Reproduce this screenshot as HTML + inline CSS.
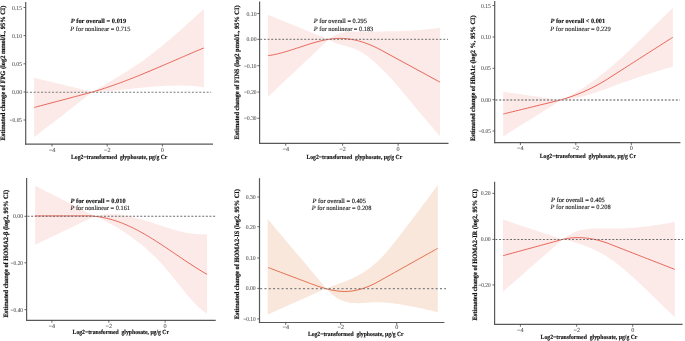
<!DOCTYPE html><html><head><meta charset="utf-8"><style>html,body{margin:0;padding:0;background:#fff;overflow:hidden;}svg{display:block;will-change:transform;}text{font-family:"Liberation Serif",serif;text-rendering:geometricPrecision;stroke-width:0.14px;paint-order:stroke;}</style></head><body>
<svg width="685" height="341" viewBox="0 0 685 341">
<rect width="685" height="341" fill="#fff"/>
<path d="M34.10,77.80 C43.83,80.17 82.77,89.63 92.50,92.00 C92.83,91.78 93.83,91.19 94.49,90.79 C95.15,90.39 95.82,90.00 96.48,89.60 C97.14,89.20 97.80,88.81 98.47,88.42 C99.13,88.02 99.79,87.63 100.46,87.24 C101.12,86.85 101.78,86.45 102.45,86.06 C103.11,85.67 103.77,85.28 104.44,84.89 C105.10,84.50 105.76,84.10 106.42,83.71 C107.09,83.32 107.75,82.93 108.41,82.54 C109.08,82.15 109.74,81.75 110.40,81.36 C111.07,80.97 111.73,80.57 112.39,80.18 C113.06,79.79 113.72,79.39 114.38,78.99 C115.05,78.60 115.71,78.20 116.37,77.80 C117.03,77.40 117.70,77.00 118.36,76.60 C119.02,76.20 119.69,75.80 120.35,75.39 C121.01,74.99 121.68,74.58 122.34,74.18 C123.00,73.77 123.67,73.36 124.33,72.95 C124.99,72.53 125.65,72.12 126.32,71.70 C126.98,71.29 127.64,70.87 128.31,70.45 C128.97,70.03 129.63,69.60 130.30,69.18 C130.96,68.75 131.62,68.32 132.29,67.89 C132.95,67.46 133.61,67.02 134.28,66.58 C134.94,66.14 135.60,65.70 136.26,65.26 C136.93,64.81 137.59,64.36 138.25,63.91 C138.92,63.46 139.58,63.01 140.24,62.55 C140.91,62.09 141.57,61.62 142.23,61.16 C142.90,60.69 143.56,60.22 144.22,59.74 C144.88,59.27 145.55,58.79 146.21,58.30 C146.87,57.82 147.54,57.33 148.20,56.84 C148.86,56.34 149.53,55.84 150.19,55.34 C150.85,54.84 151.52,54.33 152.18,53.82 C152.84,53.31 153.50,52.80 154.17,52.28 C154.83,51.76 155.49,51.24 156.16,50.71 C156.82,50.19 157.48,49.66 158.15,49.12 C158.81,48.59 159.47,48.05 160.14,47.51 C160.80,46.97 161.46,46.43 162.12,45.88 C162.79,45.34 163.45,44.79 164.11,44.23 C164.78,43.68 165.44,43.12 166.10,42.56 C166.77,42.01 167.43,41.44 168.09,40.88 C168.76,40.32 169.42,39.75 170.08,39.18 C170.75,38.61 171.41,38.04 172.07,37.46 C172.73,36.89 173.40,36.31 174.06,35.73 C174.72,35.16 175.39,34.57 176.05,33.99 C176.71,33.41 177.38,32.82 178.04,32.24 C178.70,31.65 179.37,31.06 180.03,30.47 C180.69,29.88 181.35,29.29 182.02,28.70 C182.68,28.11 183.34,27.51 184.01,26.92 C184.67,26.32 185.33,25.73 186.00,25.13 C186.66,24.53 187.32,23.93 187.99,23.34 C188.65,22.74 189.31,22.14 189.98,21.54 C190.64,20.94 191.30,20.33 191.96,19.73 C192.63,19.13 193.29,18.53 193.95,17.93 C194.62,17.32 195.28,16.72 195.94,16.12 C196.61,15.51 197.27,14.91 197.93,14.31 C198.60,13.70 199.26,13.10 199.92,12.50 C200.58,11.90 201.25,11.29 201.91,10.69 C202.57,10.09 203.57,9.19 203.90,8.89 L203.90,87.21 C203.57,87.16 202.57,87.03 201.91,86.94 C201.25,86.86 200.58,86.77 199.92,86.70 C199.26,86.62 198.60,86.55 197.93,86.48 C197.27,86.41 196.61,86.35 195.94,86.29 C195.28,86.23 194.62,86.17 193.95,86.12 C193.29,86.07 192.63,86.02 191.96,85.97 C191.30,85.93 190.64,85.89 189.98,85.85 C189.31,85.81 188.65,85.78 187.99,85.75 C187.32,85.72 186.66,85.69 186.00,85.67 C185.33,85.65 184.67,85.63 184.01,85.61 C183.34,85.59 182.68,85.58 182.02,85.57 C181.35,85.56 180.69,85.55 180.03,85.54 C179.37,85.54 178.70,85.54 178.04,85.54 C177.38,85.54 176.71,85.55 176.05,85.55 C175.39,85.56 174.72,85.57 174.06,85.58 C173.40,85.59 172.73,85.61 172.07,85.63 C171.41,85.64 170.75,85.66 170.08,85.69 C169.42,85.71 168.76,85.73 168.09,85.76 C167.43,85.79 166.77,85.82 166.10,85.85 C165.44,85.88 164.78,85.91 164.11,85.95 C163.45,85.99 162.79,86.02 162.12,86.06 C161.46,86.10 160.80,86.14 160.14,86.19 C159.47,86.23 158.81,86.28 158.15,86.32 C157.48,86.37 156.82,86.42 156.16,86.47 C155.49,86.52 154.83,86.57 154.17,86.62 C153.50,86.68 152.84,86.73 152.18,86.79 C151.52,86.84 150.85,86.90 150.19,86.96 C149.53,87.02 148.86,87.08 148.20,87.14 C147.54,87.20 146.87,87.26 146.21,87.32 C145.55,87.38 144.88,87.45 144.22,87.51 C143.56,87.57 142.90,87.64 142.23,87.71 C141.57,87.77 140.91,87.84 140.24,87.90 C139.58,87.97 138.92,88.04 138.25,88.11 C137.59,88.18 136.93,88.24 136.26,88.31 C135.60,88.38 134.94,88.45 134.28,88.52 C133.61,88.59 132.95,88.66 132.29,88.73 C131.62,88.80 130.96,88.87 130.30,88.94 C129.63,89.01 128.97,89.08 128.31,89.15 C127.64,89.22 126.98,89.29 126.32,89.36 C125.65,89.43 124.99,89.49 124.33,89.56 C123.67,89.63 123.00,89.70 122.34,89.77 C121.68,89.83 121.01,89.90 120.35,89.97 C119.69,90.03 119.02,90.10 118.36,90.16 C117.70,90.23 117.03,90.29 116.37,90.36 C115.71,90.42 115.05,90.48 114.38,90.54 C113.72,90.60 113.06,90.66 112.39,90.72 C111.73,90.78 111.07,90.84 110.40,90.90 C109.74,90.95 109.08,91.01 108.41,91.06 C107.75,91.11 107.09,91.17 106.42,91.22 C105.76,91.27 105.10,91.32 104.44,91.36 C103.77,91.41 103.11,91.46 102.45,91.50 C101.78,91.54 101.12,91.59 100.46,91.63 C99.79,91.67 99.13,91.70 98.47,91.74 C97.80,91.78 97.14,91.81 96.48,91.84 C95.82,91.87 95.15,91.90 94.49,91.93 C93.83,91.96 92.83,91.99 92.50,92.00 C82.77,99.55 43.83,129.75 34.10,137.30 Z" fill="#FCEAE8" stroke="none"/>
<path d="M34.10,107.50 C34.63,107.36 36.21,106.94 37.27,106.66 C38.33,106.38 39.38,106.10 40.44,105.82 C41.50,105.54 42.55,105.26 43.61,104.98 C44.67,104.70 45.73,104.42 46.78,104.14 C47.84,103.85 48.90,103.57 49.95,103.29 C51.01,103.01 52.07,102.73 53.12,102.45 C54.18,102.17 55.24,101.89 56.29,101.61 C57.35,101.33 58.41,101.05 59.46,100.77 C60.52,100.49 61.58,100.21 62.64,99.93 C63.69,99.65 64.75,99.37 65.81,99.09 C66.86,98.81 67.92,98.53 68.98,98.25 C70.03,97.97 71.09,97.69 72.15,97.41 C73.20,97.13 74.26,96.85 75.32,96.56 C76.37,96.28 77.43,96.00 78.49,95.72 C79.55,95.44 80.60,95.16 81.66,94.88 C82.72,94.60 83.77,94.32 84.83,94.04 C85.89,93.76 87.13,93.43 88.00,93.20 C88.87,92.97 89.36,92.85 90.03,92.67 C90.71,92.48 91.39,92.29 92.07,92.09 C92.74,91.90 93.42,91.70 94.10,91.51 C94.78,91.31 95.46,91.11 96.13,90.90 C96.81,90.70 97.49,90.50 98.17,90.29 C98.84,90.08 99.52,89.87 100.20,89.66 C100.88,89.45 101.56,89.23 102.23,89.02 C102.91,88.80 103.59,88.58 104.27,88.36 C104.94,88.14 105.62,87.92 106.30,87.69 C106.98,87.47 107.66,87.24 108.33,87.01 C109.01,86.78 109.69,86.55 110.37,86.32 C111.04,86.08 111.72,85.85 112.40,85.61 C113.08,85.38 113.76,85.14 114.43,84.90 C115.11,84.66 115.79,84.41 116.47,84.17 C117.14,83.93 117.82,83.68 118.50,83.43 C119.18,83.19 119.86,82.94 120.53,82.69 C121.21,82.44 121.89,82.18 122.57,81.93 C123.24,81.68 123.92,81.42 124.60,81.16 C125.28,80.91 125.96,80.65 126.63,80.39 C127.31,80.13 127.99,79.87 128.67,79.60 C129.34,79.34 130.02,79.08 130.70,78.81 C131.38,78.55 132.06,78.28 132.73,78.01 C133.41,77.74 134.09,77.48 134.77,77.21 C135.44,76.93 136.12,76.66 136.80,76.39 C137.48,76.12 138.16,75.84 138.83,75.57 C139.51,75.29 140.19,75.02 140.87,74.74 C141.54,74.47 142.22,74.19 142.90,73.91 C143.58,73.63 144.26,73.35 144.93,73.07 C145.61,72.79 146.29,72.51 146.97,72.22 C147.64,71.94 148.32,71.66 149.00,71.38 C149.68,71.09 150.36,70.81 151.03,70.52 C151.71,70.24 152.39,69.95 153.07,69.66 C153.74,69.38 154.42,69.09 155.10,68.80 C155.78,68.51 156.46,68.23 157.13,67.94 C157.81,67.65 158.49,67.36 159.17,67.07 C159.84,66.78 160.52,66.49 161.20,66.20 C161.88,65.91 162.56,65.62 163.23,65.32 C163.91,65.03 164.59,64.74 165.27,64.45 C165.94,64.16 166.62,63.86 167.30,63.57 C167.98,63.28 168.66,62.99 169.33,62.69 C170.01,62.40 170.69,62.11 171.37,61.82 C172.04,61.52 172.72,61.23 173.40,60.94 C174.08,60.64 174.76,60.35 175.43,60.06 C176.11,59.76 176.79,59.47 177.47,59.18 C178.14,58.89 178.82,58.59 179.50,58.30 C180.18,58.01 180.86,57.71 181.53,57.42 C182.21,57.13 182.89,56.84 183.57,56.55 C184.24,56.26 184.92,55.96 185.60,55.67 C186.28,55.38 186.96,55.09 187.63,54.80 C188.31,54.51 188.99,54.22 189.67,53.93 C190.34,53.64 191.02,53.35 191.70,53.06 C192.38,52.78 193.06,52.49 193.73,52.20 C194.41,51.91 195.09,51.63 195.77,51.34 C196.44,51.06 197.12,50.77 197.80,50.49 C198.48,50.20 199.16,49.92 199.83,49.63 C200.51,49.35 201.19,49.07 201.87,48.79 C202.54,48.51 203.56,48.09 203.90,47.95" fill="none" stroke="#E5564A" stroke-width="0.9" stroke-linejoin="round"/>
<line x1="26.3" y1="92.2" x2="211.2" y2="92.2" stroke="#7a7a7a" stroke-width="1.1" stroke-dasharray="2,1.68"/>
<line x1="25.7" y1="2" x2="25.7" y2="144.7" stroke="#585858" stroke-width="1.2"/>
<line x1="25.099999999999998" y1="144.1" x2="213" y2="144.1" stroke="#585858" stroke-width="1.2"/>
<line x1="23.5" y1="7.5" x2="25.7" y2="7.5" stroke="#444" stroke-width="0.8"/>
<text x="22.0" y="9.50" text-anchor="end" font-size="6.1" textLength="10.0" lengthAdjust="spacingAndGlyphs" fill="#505050" stroke="#505050" style="stroke-width:0.07px">0.15</text>
<line x1="23.5" y1="35.6" x2="25.7" y2="35.6" stroke="#444" stroke-width="0.8"/>
<text x="22.0" y="37.60" text-anchor="end" font-size="6.1" textLength="10.0" lengthAdjust="spacingAndGlyphs" fill="#505050" stroke="#505050" style="stroke-width:0.07px">0.10</text>
<line x1="23.5" y1="63.8" x2="25.7" y2="63.8" stroke="#444" stroke-width="0.8"/>
<text x="22.0" y="65.80" text-anchor="end" font-size="6.1" textLength="10.0" lengthAdjust="spacingAndGlyphs" fill="#505050" stroke="#505050" style="stroke-width:0.07px">0.05</text>
<line x1="23.5" y1="92.0" x2="25.7" y2="92.0" stroke="#444" stroke-width="0.8"/>
<text x="22.0" y="94.00" text-anchor="end" font-size="6.1" textLength="10.0" lengthAdjust="spacingAndGlyphs" fill="#505050" stroke="#505050" style="stroke-width:0.07px">0.00</text>
<line x1="23.5" y1="120.0" x2="25.7" y2="120.0" stroke="#444" stroke-width="0.8"/>
<text x="22.0" y="122.00" text-anchor="end" font-size="6.1" textLength="12.4" lengthAdjust="spacingAndGlyphs" fill="#505050" stroke="#505050" style="stroke-width:0.07px">−0.05</text>
<line x1="52" y1="144.1" x2="52" y2="146.5" stroke="#444" stroke-width="0.8"/>
<text x="52" y="151.60" text-anchor="middle" font-size="6.2" fill="#505050" stroke="#505050" style="stroke-width:0.07px">−4</text>
<line x1="107.2" y1="144.1" x2="107.2" y2="146.5" stroke="#444" stroke-width="0.8"/>
<text x="107.2" y="151.60" text-anchor="middle" font-size="6.2" fill="#505050" stroke="#505050" style="stroke-width:0.07px">−2</text>
<line x1="162.4" y1="144.1" x2="162.4" y2="146.5" stroke="#444" stroke-width="0.8"/>
<text x="162.4" y="151.60" text-anchor="middle" font-size="6.2" fill="#505050" stroke="#505050" style="stroke-width:0.07px">0</text>
<text x="71.0" y="159.00" font-size="6.3" font-weight="bold" textLength="96.4" lengthAdjust="spacingAndGlyphs" xml:space="preserve" fill="#111" stroke="#111">Log2−transformed  glyphosate, μg/g Cr</text>
<text transform="translate(5.4,73.0) rotate(-90)" x="0" y="0" text-anchor="middle" font-size="6.6" font-weight="bold" textLength="134.8" lengthAdjust="spacingAndGlyphs" fill="#111" stroke="#111" style="stroke-width:0.2px">Estimated change of FPG (log2 mmol/L, 95% CI)</text>
<text x="70.7" y="22.9" font-size="6.5" font-weight="bold" fill="#111" stroke="#111" textLength="55.6" lengthAdjust="spacingAndGlyphs"><tspan font-style="italic">P</tspan> for overall = 0.019</text>
<text x="70.3" y="30.6" font-size="6.5" font-weight="normal" fill="#2a2a2a" stroke="#2a2a2a" textLength="60.1" lengthAdjust="spacingAndGlyphs"><tspan font-style="italic">P</tspan> for nonlinear = 0.715</text>
<path d="M267.90,14.70 C278.05,18.82 318.65,35.28 328.80,39.40 C329.13,39.10 330.12,38.31 330.79,37.84 C331.45,37.37 332.11,36.94 332.78,36.54 C333.44,36.14 334.10,35.78 334.76,35.44 C335.42,35.10 336.09,34.79 336.75,34.51 C337.41,34.23 338.07,33.98 338.74,33.75 C339.40,33.52 340.06,33.32 340.73,33.13 C341.39,32.95 342.05,32.79 342.71,32.65 C343.38,32.51 344.04,32.39 344.70,32.28 C345.36,32.17 346.02,32.08 346.69,32.01 C347.35,31.93 348.01,31.87 348.68,31.81 C349.34,31.76 350.00,31.72 350.66,31.69 C351.33,31.66 351.99,31.63 352.65,31.61 C353.31,31.60 353.98,31.58 354.64,31.57 C355.30,31.56 355.96,31.56 356.62,31.55 C357.29,31.54 357.95,31.54 358.61,31.53 C359.28,31.53 359.94,31.52 360.60,31.52 C361.26,31.51 361.93,31.51 362.59,31.50 C363.25,31.50 363.91,31.50 364.58,31.49 C365.24,31.49 365.90,31.49 366.56,31.48 C367.23,31.48 367.89,31.48 368.55,31.48 C369.21,31.47 369.88,31.47 370.54,31.47 C371.20,31.46 371.86,31.46 372.53,31.46 C373.19,31.46 373.85,31.45 374.51,31.45 C375.18,31.45 375.84,31.44 376.50,31.44 C377.16,31.44 377.82,31.43 378.49,31.43 C379.15,31.43 379.81,31.42 380.48,31.42 C381.14,31.41 381.80,31.41 382.46,31.40 C383.13,31.40 383.79,31.39 384.45,31.38 C385.11,31.38 385.77,31.37 386.44,31.36 C387.10,31.35 387.76,31.35 388.43,31.34 C389.09,31.33 389.75,31.32 390.41,31.31 C391.08,31.30 391.74,31.28 392.40,31.27 C393.06,31.26 393.73,31.25 394.39,31.23 C395.05,31.22 395.71,31.20 396.38,31.19 C397.04,31.17 397.70,31.15 398.36,31.13 C399.03,31.11 399.69,31.09 400.35,31.07 C401.01,31.05 401.68,31.03 402.34,31.01 C403.00,30.98 403.66,30.96 404.33,30.93 C404.99,30.91 405.65,30.88 406.31,30.85 C406.98,30.82 407.64,30.79 408.30,30.76 C408.96,30.73 409.62,30.69 410.29,30.66 C410.95,30.62 411.61,30.58 412.28,30.55 C412.94,30.51 413.60,30.47 414.26,30.43 C414.93,30.38 415.59,30.34 416.25,30.29 C416.91,30.25 417.57,30.20 418.24,30.15 C418.90,30.10 419.56,30.05 420.23,30.00 C420.89,29.94 421.55,29.89 422.21,29.83 C422.88,29.77 423.54,29.71 424.20,29.65 C424.86,29.59 425.52,29.52 426.19,29.46 C426.85,29.39 427.51,29.32 428.18,29.25 C428.84,29.18 429.50,29.10 430.16,29.03 C430.83,28.95 431.49,28.87 432.15,28.79 C432.81,28.71 433.48,28.63 434.14,28.54 C434.80,28.46 435.46,28.37 436.12,28.28 C436.79,28.18 437.45,28.09 438.11,27.99 C438.78,27.90 439.77,27.74 440.10,27.69 L440.10,136.30 C439.77,135.92 438.78,134.78 438.11,134.02 C437.45,133.26 436.79,132.49 436.12,131.73 C435.46,130.97 434.80,130.20 434.14,129.43 C433.48,128.66 432.81,127.89 432.15,127.12 C431.49,126.35 430.83,125.58 430.16,124.80 C429.50,124.02 428.84,123.25 428.18,122.47 C427.51,121.69 426.85,120.91 426.19,120.13 C425.52,119.35 424.86,118.57 424.20,117.78 C423.54,117.00 422.88,116.21 422.21,115.42 C421.55,114.63 420.89,113.85 420.23,113.06 C419.56,112.27 418.90,111.47 418.24,110.68 C417.57,109.89 416.91,109.09 416.25,108.30 C415.59,107.50 414.93,106.71 414.26,105.91 C413.60,105.11 412.94,104.31 412.28,103.51 C411.61,102.71 410.95,101.91 410.29,101.11 C409.62,100.31 408.96,99.51 408.30,98.71 C407.64,97.91 406.98,97.11 406.31,96.31 C405.65,95.51 404.99,94.71 404.33,93.92 C403.66,93.13 403.00,92.33 402.34,91.55 C401.68,90.76 401.01,89.97 400.35,89.19 C399.69,88.40 399.03,87.63 398.36,86.85 C397.70,86.08 397.04,85.31 396.38,84.54 C395.71,83.78 395.05,83.02 394.39,82.26 C393.73,81.51 393.06,80.76 392.40,80.02 C391.74,79.27 391.08,78.54 390.41,77.81 C389.75,77.08 389.09,76.36 388.43,75.65 C387.76,74.94 387.10,74.23 386.44,73.53 C385.77,72.84 385.11,72.15 384.45,71.47 C383.79,70.79 383.13,70.13 382.46,69.47 C381.80,68.81 381.14,68.16 380.48,67.52 C379.81,66.89 379.15,66.26 378.49,65.64 C377.82,65.03 377.16,64.42 376.50,63.83 C375.84,63.23 375.18,62.65 374.51,62.07 C373.85,61.49 373.19,60.93 372.53,60.37 C371.86,59.81 371.20,59.25 370.54,58.71 C369.88,58.17 369.21,57.63 368.55,57.11 C367.89,56.59 367.23,56.07 366.56,55.58 C365.90,55.09 365.24,54.61 364.58,54.15 C363.91,53.69 363.25,53.25 362.59,52.84 C361.93,52.42 361.26,52.03 360.60,51.66 C359.94,51.28 359.28,50.93 358.61,50.60 C357.95,50.27 357.29,49.97 356.62,49.68 C355.96,49.39 355.30,49.12 354.64,48.87 C353.98,48.62 353.31,48.38 352.65,48.16 C351.99,47.93 351.33,47.72 350.66,47.52 C350.00,47.31 349.34,47.12 348.68,46.93 C348.01,46.74 347.35,46.56 346.69,46.38 C346.02,46.19 345.36,46.02 344.70,45.83 C344.04,45.65 343.38,45.47 342.71,45.28 C342.05,45.09 341.39,44.91 340.73,44.71 C340.06,44.51 339.40,44.30 338.74,44.08 C338.07,43.87 337.41,43.64 336.75,43.40 C336.09,43.15 335.42,42.90 334.76,42.62 C334.10,42.34 333.44,42.04 332.78,41.72 C332.11,41.39 331.45,41.04 330.79,40.66 C330.12,40.28 329.13,39.62 328.80,39.41 C318.65,48.98 278.05,87.32 267.90,96.90 Z" fill="#FCEAE8" stroke="none"/>
<path d="M268.20,55.63 C268.54,55.58 269.56,55.44 270.23,55.33 C270.91,55.23 271.59,55.11 272.27,54.99 C272.94,54.86 273.62,54.73 274.30,54.59 C274.98,54.45 275.65,54.31 276.33,54.16 C277.01,54.00 277.69,53.85 278.36,53.68 C279.04,53.52 279.72,53.35 280.40,53.17 C281.07,53.00 281.75,52.81 282.43,52.63 C283.11,52.44 283.78,52.25 284.46,52.06 C285.14,51.86 285.82,51.67 286.49,51.46 C287.17,51.26 287.85,51.06 288.53,50.85 C289.20,50.64 289.88,50.43 290.56,50.21 C291.24,50.00 291.92,49.78 292.59,49.56 C293.27,49.34 293.95,49.12 294.63,48.90 C295.30,48.68 295.98,48.45 296.66,48.23 C297.34,48.01 298.01,47.78 298.69,47.56 C299.37,47.33 300.05,47.10 300.72,46.88 C301.40,46.66 302.08,46.43 302.76,46.21 C303.43,45.98 304.11,45.76 304.79,45.54 C305.47,45.32 306.14,45.10 306.82,44.88 C307.50,44.66 308.18,44.45 308.85,44.24 C309.53,44.02 310.21,43.81 310.89,43.61 C311.56,43.40 312.24,43.19 312.92,42.99 C313.60,42.80 314.28,42.60 314.95,42.41 C315.63,42.22 316.31,42.03 316.99,41.85 C317.66,41.66 318.34,41.49 319.02,41.31 C319.70,41.14 320.37,40.97 321.05,40.81 C321.73,40.65 322.41,40.50 323.08,40.35 C323.76,40.20 324.44,40.06 325.12,39.93 C325.79,39.79 326.47,39.67 327.15,39.55 C327.83,39.43 328.50,39.32 329.18,39.22 C329.86,39.11 330.54,39.02 331.21,38.93 C331.89,38.85 332.57,38.77 333.25,38.70 C333.92,38.64 334.60,38.58 335.28,38.53 C335.96,38.48 336.64,38.45 337.31,38.42 C337.99,38.39 338.67,38.38 339.35,38.37 C340.02,38.36 340.70,38.37 341.38,38.39 C342.06,38.40 342.73,38.43 343.41,38.46 C344.09,38.50 344.77,38.55 345.44,38.60 C346.12,38.66 346.80,38.73 347.48,38.81 C348.15,38.88 348.83,38.97 349.51,39.07 C350.19,39.16 350.86,39.27 351.54,39.39 C352.22,39.50 352.90,39.63 353.57,39.77 C354.25,39.90 354.93,40.05 355.61,40.20 C356.28,40.36 356.96,40.52 357.64,40.69 C358.32,40.87 359.00,41.05 359.67,41.24 C360.35,41.43 361.03,41.63 361.71,41.84 C362.38,42.05 363.06,42.26 363.74,42.49 C364.42,42.72 365.09,42.95 365.77,43.19 C366.45,43.44 367.13,43.69 367.80,43.95 C368.48,44.21 369.16,44.48 369.84,44.75 C370.51,45.03 371.19,45.31 371.87,45.60 C372.55,45.90 373.22,46.20 373.90,46.50 C374.58,46.81 375.26,47.13 375.93,47.45 C376.61,47.77 377.29,48.10 377.97,48.44 C378.64,48.78 379.16,49.03 380.00,49.48 C380.84,49.92 382.00,50.59 383.00,51.13 C384.01,51.68 385.01,52.23 386.01,52.77 C387.01,53.32 388.01,53.86 389.01,54.41 C390.02,54.95 391.02,55.49 392.02,56.04 C393.02,56.59 394.02,57.13 395.02,57.67 C396.03,58.22 397.03,58.77 398.03,59.31 C399.03,59.86 400.03,60.40 401.04,60.95 C402.04,61.49 403.04,62.03 404.04,62.58 C405.04,63.12 406.04,63.67 407.05,64.22 C408.05,64.76 409.05,65.30 410.05,65.85 C411.05,66.39 412.05,66.94 413.06,67.48 C414.06,68.03 415.06,68.58 416.06,69.12 C417.06,69.67 418.06,70.21 419.06,70.75 C420.07,71.30 421.07,71.84 422.07,72.39 C423.07,72.94 424.07,73.48 425.08,74.03 C426.08,74.57 427.08,75.11 428.08,75.66 C429.08,76.20 430.08,76.75 431.09,77.30 C432.09,77.84 433.09,78.39 434.09,78.93 C435.09,79.48 436.09,80.02 437.10,80.56 C438.10,81.11 439.60,81.93 440.10,82.20" fill="none" stroke="#E5564A" stroke-width="0.9" stroke-linejoin="round"/>
<line x1="260.3" y1="39.3" x2="448" y2="39.3" stroke="#6a6a6a" stroke-width="1.0" stroke-dasharray="1.9,1.76"/>
<line x1="259.6" y1="1.4" x2="259.6" y2="143.95" stroke="#585858" stroke-width="1.2"/>
<line x1="259.0" y1="143.35" x2="448.5" y2="143.35" stroke="#585858" stroke-width="1.2"/>
<line x1="257.40000000000003" y1="13.5" x2="259.6" y2="13.5" stroke="#444" stroke-width="0.8"/>
<text x="256.5" y="15.50" text-anchor="end" font-size="6.1" textLength="10.0" lengthAdjust="spacingAndGlyphs" fill="#505050" stroke="#505050" style="stroke-width:0.07px">0.10</text>
<line x1="257.40000000000003" y1="39.4" x2="259.6" y2="39.4" stroke="#444" stroke-width="0.8"/>
<text x="256.5" y="41.40" text-anchor="end" font-size="6.1" textLength="10.0" lengthAdjust="spacingAndGlyphs" fill="#505050" stroke="#505050" style="stroke-width:0.07px">0.00</text>
<line x1="257.40000000000003" y1="65.7" x2="259.6" y2="65.7" stroke="#444" stroke-width="0.8"/>
<text x="256.5" y="67.70" text-anchor="end" font-size="6.1" textLength="12.4" lengthAdjust="spacingAndGlyphs" fill="#505050" stroke="#505050" style="stroke-width:0.07px">−0.10</text>
<line x1="257.40000000000003" y1="92.1" x2="259.6" y2="92.1" stroke="#444" stroke-width="0.8"/>
<text x="256.5" y="94.10" text-anchor="end" font-size="6.1" textLength="12.4" lengthAdjust="spacingAndGlyphs" fill="#505050" stroke="#505050" style="stroke-width:0.07px">−0.20</text>
<line x1="257.40000000000003" y1="118.3" x2="259.6" y2="118.3" stroke="#444" stroke-width="0.8"/>
<text x="256.5" y="120.30" text-anchor="end" font-size="6.1" textLength="12.4" lengthAdjust="spacingAndGlyphs" fill="#505050" stroke="#505050" style="stroke-width:0.07px">−0.30</text>
<line x1="285.7" y1="143.35" x2="285.7" y2="145.75" stroke="#444" stroke-width="0.8"/>
<text x="285.7" y="150.50" text-anchor="middle" font-size="6.2" fill="#505050" stroke="#505050" style="stroke-width:0.07px">−4</text>
<line x1="342.6" y1="143.35" x2="342.6" y2="145.75" stroke="#444" stroke-width="0.8"/>
<text x="342.6" y="150.50" text-anchor="middle" font-size="6.2" fill="#505050" stroke="#505050" style="stroke-width:0.07px">−2</text>
<line x1="398.1" y1="143.35" x2="398.1" y2="145.75" stroke="#444" stroke-width="0.8"/>
<text x="398.1" y="150.50" text-anchor="middle" font-size="6.2" fill="#505050" stroke="#505050" style="stroke-width:0.07px">0</text>
<text x="306.5" y="158.50" font-size="6.3" font-weight="bold" textLength="95.7" lengthAdjust="spacingAndGlyphs" xml:space="preserve" fill="#111" stroke="#111">Log2−transformed  glyphosate, μg/g Cr</text>
<text transform="translate(238.7,72.55) rotate(-90)" x="0" y="0" text-anchor="middle" font-size="6.6" font-weight="bold" textLength="134.1" lengthAdjust="spacingAndGlyphs" fill="#111" stroke="#111" style="stroke-width:0.2px">Estimated change of FINS (log2 pmol/L, 95% CI)</text>
<text x="313.8" y="22.8" font-size="6.5" font-weight="normal" fill="#111" stroke="#111" textLength="53.1" lengthAdjust="spacingAndGlyphs"><tspan font-style="italic">P</tspan> for overall = 0.295</text>
<text x="313.8" y="30.6" font-size="6.5" font-weight="normal" fill="#2a2a2a" stroke="#2a2a2a" textLength="59.5" lengthAdjust="spacingAndGlyphs"><tspan font-style="italic">P</tspan> for nonlinear = 0.183</text>
<path d="M503.20,91.70 C512.92,93.08 551.78,98.62 561.50,100.00 C561.83,99.82 562.83,99.35 563.49,99.03 C564.15,98.71 564.82,98.39 565.48,98.06 C566.14,97.73 566.80,97.39 567.47,97.05 C568.13,96.70 568.79,96.35 569.46,96.00 C570.12,95.64 570.78,95.28 571.45,94.92 C572.11,94.55 572.77,94.18 573.44,93.80 C574.10,93.43 574.76,93.04 575.42,92.65 C576.09,92.27 576.75,91.87 577.41,91.47 C578.08,91.07 578.74,90.67 579.40,90.26 C580.07,89.85 580.73,89.43 581.39,89.01 C582.06,88.59 582.72,88.16 583.38,87.73 C584.05,87.30 584.71,86.86 585.37,86.42 C586.03,85.98 586.70,85.53 587.36,85.08 C588.02,84.63 588.69,84.17 589.35,83.71 C590.01,83.25 590.68,82.78 591.34,82.31 C592.00,81.83 592.67,81.36 593.33,80.88 C593.99,80.39 594.65,79.91 595.32,79.42 C595.98,78.92 596.64,78.43 597.31,77.93 C597.97,77.43 598.63,76.92 599.30,76.41 C599.96,75.90 600.62,75.39 601.29,74.87 C601.95,74.35 602.61,73.82 603.27,73.30 C603.94,72.77 604.60,72.24 605.26,71.70 C605.93,71.16 606.59,70.62 607.25,70.08 C607.92,69.53 608.58,68.98 609.24,68.43 C609.91,67.87 610.57,67.32 611.23,66.75 C611.90,66.19 612.56,65.62 613.22,65.05 C613.88,64.48 614.55,63.91 615.21,63.33 C615.87,62.75 616.54,62.17 617.20,61.59 C617.86,61.00 618.53,60.41 619.19,59.82 C619.85,59.22 620.52,58.62 621.18,58.02 C621.84,57.42 622.50,56.82 623.17,56.21 C623.83,55.60 624.49,54.99 625.16,54.37 C625.82,53.76 626.48,53.14 627.15,52.52 C627.81,51.90 628.47,51.27 629.14,50.64 C629.80,50.02 630.46,49.39 631.12,48.76 C631.79,48.12 632.45,47.49 633.11,46.85 C633.78,46.21 634.44,45.57 635.10,44.93 C635.77,44.29 636.43,43.65 637.09,43.00 C637.76,42.36 638.42,41.71 639.08,41.06 C639.75,40.41 640.41,39.76 641.07,39.11 C641.73,38.46 642.40,37.81 643.06,37.16 C643.72,36.50 644.39,35.85 645.05,35.19 C645.71,34.54 646.38,33.88 647.04,33.23 C647.70,32.57 648.37,31.91 649.03,31.25 C649.69,30.60 650.35,29.94 651.02,29.28 C651.68,28.62 652.34,27.97 653.01,27.31 C653.67,26.65 654.33,25.99 655.00,25.34 C655.66,24.68 656.32,24.02 656.99,23.37 C657.65,22.71 658.31,22.06 658.98,21.40 C659.64,20.75 660.30,20.09 660.96,19.44 C661.63,18.79 662.29,18.14 662.95,17.49 C663.62,16.84 664.28,16.19 664.94,15.55 C665.61,14.90 666.27,14.25 666.93,13.61 C667.60,12.97 668.26,12.33 668.92,11.69 C669.58,11.05 670.25,10.41 670.91,9.78 C671.57,9.15 672.57,8.20 672.90,7.88 L672.90,66.71 C672.57,66.80 671.57,67.07 670.91,67.25 C670.25,67.43 669.58,67.61 668.92,67.80 C668.26,67.98 667.60,68.17 666.93,68.35 C666.27,68.54 665.61,68.73 664.94,68.92 C664.28,69.11 663.62,69.30 662.95,69.50 C662.29,69.69 661.63,69.88 660.96,70.08 C660.30,70.28 659.64,70.47 658.98,70.67 C658.31,70.87 657.65,71.07 656.99,71.28 C656.32,71.48 655.66,71.68 655.00,71.89 C654.33,72.09 653.67,72.30 653.01,72.51 C652.34,72.71 651.68,72.92 651.02,73.13 C650.35,73.34 649.69,73.55 649.03,73.77 C648.37,73.98 647.70,74.19 647.04,74.41 C646.38,74.62 645.71,74.84 645.05,75.06 C644.39,75.28 643.72,75.49 643.06,75.71 C642.40,75.93 641.73,76.15 641.07,76.38 C640.41,76.60 639.75,76.82 639.08,77.05 C638.42,77.27 637.76,77.50 637.09,77.72 C636.43,77.95 635.77,78.18 635.10,78.40 C634.44,78.63 633.78,78.86 633.11,79.09 C632.45,79.32 631.79,79.55 631.12,79.78 C630.46,80.02 629.80,80.25 629.14,80.48 C628.47,80.72 627.81,80.95 627.15,81.19 C626.48,81.42 625.82,81.66 625.16,81.89 C624.49,82.13 623.83,82.37 623.17,82.61 C622.50,82.85 621.84,83.09 621.18,83.33 C620.52,83.57 619.85,83.81 619.19,84.05 C618.53,84.29 617.86,84.53 617.20,84.77 C616.54,85.02 615.87,85.26 615.21,85.50 C614.55,85.75 613.88,85.99 613.22,86.23 C612.56,86.48 611.90,86.72 611.23,86.97 C610.57,87.22 609.91,87.46 609.24,87.71 C608.58,87.95 607.92,88.20 607.25,88.44 C606.59,88.68 605.93,88.93 605.26,89.17 C604.60,89.41 603.94,89.65 603.27,89.89 C602.61,90.13 601.95,90.37 601.29,90.61 C600.62,90.85 599.96,91.08 599.30,91.32 C598.63,91.55 597.97,91.78 597.31,92.01 C596.64,92.24 595.98,92.47 595.32,92.69 C594.65,92.91 593.99,93.13 593.33,93.35 C592.67,93.57 592.00,93.79 591.34,94.00 C590.68,94.21 590.01,94.42 589.35,94.62 C588.69,94.82 588.02,95.02 587.36,95.22 C586.70,95.42 586.03,95.61 585.37,95.80 C584.71,95.98 584.05,96.17 583.38,96.35 C582.72,96.52 582.06,96.70 581.39,96.87 C580.73,97.03 580.07,97.20 579.40,97.36 C578.74,97.51 578.08,97.66 577.41,97.81 C576.75,97.96 576.09,98.10 575.42,98.23 C574.76,98.36 574.10,98.49 573.44,98.61 C572.77,98.73 572.11,98.85 571.45,98.96 C570.78,99.06 570.12,99.16 569.46,99.26 C568.79,99.35 568.13,99.44 567.47,99.52 C566.80,99.59 566.14,99.66 565.48,99.73 C564.82,99.79 564.15,99.84 563.49,99.89 C562.83,99.94 561.83,99.99 561.50,100.00 C551.78,106.07 512.92,130.33 503.20,136.40 Z" fill="#FCEAE8" stroke="none"/>
<path d="M503.30,114.00 C503.81,113.88 505.33,113.50 506.34,113.26 C507.35,113.01 508.36,112.76 509.38,112.51 C510.39,112.26 511.40,112.01 512.42,111.77 C513.43,111.52 514.44,111.27 515.46,111.02 C516.47,110.77 517.48,110.53 518.49,110.28 C519.51,110.03 520.52,109.78 521.53,109.53 C522.55,109.29 523.56,109.04 524.57,108.79 C525.59,108.54 526.60,108.29 527.61,108.04 C528.62,107.80 529.64,107.55 530.65,107.30 C531.66,107.05 532.68,106.80 533.69,106.56 C534.70,106.31 535.71,106.06 536.73,105.81 C537.74,105.56 538.75,105.31 539.77,105.07 C540.78,104.82 541.79,104.57 542.81,104.32 C543.82,104.07 544.83,103.83 545.84,103.58 C546.86,103.33 547.87,103.08 548.88,102.83 C549.90,102.59 550.91,102.34 551.92,102.09 C552.94,101.84 553.95,101.59 554.96,101.34 C555.97,101.10 557.16,100.81 558.00,100.60 C558.84,100.39 559.33,100.25 560.00,100.07 C560.67,99.89 561.33,99.70 562.00,99.51 C562.67,99.32 563.33,99.12 564.00,98.92 C564.67,98.72 565.33,98.52 566.00,98.31 C566.67,98.10 567.33,97.89 568.00,97.67 C568.67,97.45 569.33,97.23 570.00,97.01 C570.67,96.78 571.33,96.55 572.00,96.31 C572.67,96.08 573.33,95.84 574.00,95.59 C574.67,95.35 575.33,95.10 576.00,94.84 C576.67,94.59 577.33,94.33 578.00,94.06 C578.67,93.80 579.33,93.53 580.00,93.26 C580.67,92.98 581.33,92.71 582.00,92.42 C582.67,92.14 583.33,91.85 584.00,91.56 C584.67,91.27 585.33,90.97 586.00,90.66 C586.67,90.36 587.33,90.05 588.00,89.74 C588.67,89.43 589.33,89.11 590.00,88.78 C590.67,88.46 591.33,88.13 592.00,87.80 C592.67,87.47 593.33,87.13 594.00,86.78 C594.67,86.44 595.33,86.09 596.00,85.73 C596.67,85.38 597.33,85.02 598.00,84.65 C598.67,84.29 599.33,83.92 600.00,83.54 C600.67,83.16 601.33,82.78 602.00,82.39 C602.67,82.01 603.33,81.61 604.00,81.21 C604.67,80.82 605.16,80.53 606.00,80.00 C606.84,79.48 608.03,78.70 609.04,78.05 C610.05,77.41 611.07,76.76 612.08,76.11 C613.10,75.46 614.11,74.81 615.12,74.16 C616.14,73.52 617.15,72.87 618.16,72.22 C619.18,71.57 620.19,70.92 621.20,70.27 C622.22,69.62 623.23,68.98 624.25,68.33 C625.26,67.68 626.27,67.03 627.29,66.38 C628.30,65.73 629.31,65.08 630.33,64.44 C631.34,63.79 632.35,63.14 633.37,62.49 C634.38,61.84 635.40,61.19 636.41,60.55 C637.42,59.90 638.44,59.25 639.45,58.60 C640.46,57.95 641.48,57.30 642.49,56.65 C643.50,56.01 644.52,55.36 645.53,54.71 C646.55,54.06 647.56,53.41 648.57,52.76 C649.59,52.12 650.60,51.47 651.61,50.82 C652.63,50.17 653.64,49.52 654.65,48.87 C655.67,48.22 656.68,47.58 657.70,46.93 C658.71,46.28 659.72,45.63 660.74,44.98 C661.75,44.33 662.76,43.68 663.78,43.04 C664.79,42.39 665.80,41.74 666.82,41.09 C667.83,40.44 668.85,39.79 669.86,39.15 C670.87,38.50 672.39,37.52 672.90,37.20" fill="none" stroke="#E5564A" stroke-width="0.9" stroke-linejoin="round"/>
<line x1="495.5" y1="100.0" x2="680" y2="100.0" stroke="#8a8a8a" stroke-width="1.3" stroke-dasharray="2,1.68"/>
<line x1="494.7" y1="1.0" x2="494.7" y2="143.29999999999998" stroke="#585858" stroke-width="1.2"/>
<line x1="494.09999999999997" y1="142.7" x2="680.4" y2="142.7" stroke="#585858" stroke-width="1.2"/>
<line x1="492.5" y1="5.5" x2="494.7" y2="5.5" stroke="#444" stroke-width="0.8"/>
<text x="490.9" y="7.50" text-anchor="end" font-size="6.1" textLength="10.0" lengthAdjust="spacingAndGlyphs" fill="#505050" stroke="#505050" style="stroke-width:0.07px">0.15</text>
<line x1="492.5" y1="37.0" x2="494.7" y2="37.0" stroke="#444" stroke-width="0.8"/>
<text x="490.9" y="39.00" text-anchor="end" font-size="6.1" textLength="10.0" lengthAdjust="spacingAndGlyphs" fill="#505050" stroke="#505050" style="stroke-width:0.07px">0.10</text>
<line x1="492.5" y1="68.3" x2="494.7" y2="68.3" stroke="#444" stroke-width="0.8"/>
<text x="490.9" y="70.30" text-anchor="end" font-size="6.1" textLength="10.0" lengthAdjust="spacingAndGlyphs" fill="#505050" stroke="#505050" style="stroke-width:0.07px">0.05</text>
<line x1="492.5" y1="99.7" x2="494.7" y2="99.7" stroke="#444" stroke-width="0.8"/>
<text x="490.9" y="101.70" text-anchor="end" font-size="6.1" textLength="10.0" lengthAdjust="spacingAndGlyphs" fill="#505050" stroke="#505050" style="stroke-width:0.07px">0.00</text>
<line x1="492.5" y1="131.0" x2="494.7" y2="131.0" stroke="#444" stroke-width="0.8"/>
<text x="490.9" y="133.00" text-anchor="end" font-size="6.1" textLength="12.4" lengthAdjust="spacingAndGlyphs" fill="#505050" stroke="#505050" style="stroke-width:0.07px">−0.05</text>
<line x1="520.4" y1="142.7" x2="520.4" y2="145.1" stroke="#444" stroke-width="0.8"/>
<text x="520.4" y="150.10" text-anchor="middle" font-size="6.2" fill="#505050" stroke="#505050" style="stroke-width:0.07px">−4</text>
<line x1="575.8" y1="142.7" x2="575.8" y2="145.1" stroke="#444" stroke-width="0.8"/>
<text x="575.8" y="150.10" text-anchor="middle" font-size="6.2" fill="#505050" stroke="#505050" style="stroke-width:0.07px">−2</text>
<line x1="631.3" y1="142.7" x2="631.3" y2="145.1" stroke="#444" stroke-width="0.8"/>
<text x="631.3" y="150.10" text-anchor="middle" font-size="6.2" fill="#505050" stroke="#505050" style="stroke-width:0.07px">0</text>
<text x="539.8" y="157.80" font-size="6.3" font-weight="bold" textLength="96.2" lengthAdjust="spacingAndGlyphs" xml:space="preserve" fill="#111" stroke="#111">Log2−transformed  glyphosate, μg/g Cr</text>
<text transform="translate(474.8,78.25) rotate(-90)" x="0" y="0" text-anchor="middle" font-size="6.6" font-weight="bold" textLength="125.7" lengthAdjust="spacingAndGlyphs" fill="#111" stroke="#111" style="stroke-width:0.2px">Estimated change of HbA1c (log2 %, 95% CI)</text>
<text x="550.5" y="22.8" font-size="6.5" font-weight="bold" fill="#111" stroke="#111" textLength="54.7" lengthAdjust="spacingAndGlyphs"><tspan font-style="italic">P</tspan> for overall &lt; 0.001</text>
<text x="550.3" y="30.6" font-size="6.5" font-weight="normal" fill="#2a2a2a" stroke="#2a2a2a" textLength="60.4" lengthAdjust="spacingAndGlyphs"><tspan font-style="italic">P</tspan> for nonlinear = 0.229</text>
<path d="M35.10,185.70 C45.08,190.78 85.02,211.12 95.00,216.20 C95.33,216.10 96.33,215.83 97.00,215.68 C97.67,215.52 98.34,215.38 99.00,215.25 C99.67,215.12 100.34,215.00 101.01,214.90 C101.67,214.79 102.34,214.70 103.01,214.61 C103.67,214.53 104.34,214.46 105.01,214.40 C105.68,214.34 106.34,214.29 107.01,214.25 C107.68,214.21 108.35,214.18 109.01,214.16 C109.68,214.15 110.35,214.14 111.01,214.14 C111.68,214.14 112.35,214.15 113.02,214.17 C113.68,214.19 114.35,214.22 115.02,214.26 C115.69,214.30 116.35,214.35 117.02,214.40 C117.69,214.46 118.35,214.52 119.02,214.59 C119.69,214.67 120.36,214.75 121.02,214.83 C121.69,214.92 122.36,215.02 123.03,215.12 C123.69,215.22 124.36,215.33 125.03,215.45 C125.69,215.56 126.36,215.69 127.03,215.81 C127.70,215.94 128.36,216.08 129.03,216.22 C129.70,216.36 130.36,216.51 131.03,216.66 C131.70,216.81 132.37,216.97 133.03,217.13 C133.70,217.30 134.37,217.47 135.04,217.64 C135.70,217.81 136.37,217.99 137.04,218.17 C137.70,218.35 138.37,218.54 139.04,218.72 C139.71,218.91 140.37,219.11 141.04,219.30 C141.71,219.50 142.38,219.70 143.04,219.90 C143.71,220.10 144.38,220.31 145.04,220.52 C145.71,220.72 146.38,220.93 147.05,221.15 C147.71,221.36 148.38,221.57 149.05,221.79 C149.72,222.00 150.38,222.22 151.05,222.44 C151.72,222.66 152.38,222.88 153.05,223.10 C153.72,223.32 154.39,223.54 155.05,223.76 C155.72,223.98 156.39,224.20 157.06,224.42 C157.72,224.65 158.39,224.87 159.06,225.09 C159.72,225.31 160.39,225.53 161.06,225.75 C161.73,225.97 162.39,226.19 163.06,226.40 C163.73,226.62 164.40,226.84 165.06,227.05 C165.73,227.26 166.40,227.48 167.06,227.69 C167.73,227.90 168.40,228.10 169.07,228.31 C169.73,228.51 170.40,228.72 171.07,228.92 C171.74,229.11 172.40,229.31 173.07,229.50 C173.74,229.70 174.40,229.89 175.07,230.07 C175.74,230.25 176.41,230.44 177.07,230.61 C177.74,230.79 178.41,230.96 179.07,231.13 C179.74,231.30 180.41,231.46 181.08,231.62 C181.74,231.78 182.41,231.93 183.08,232.07 C183.75,232.22 184.41,232.36 185.08,232.50 C185.75,232.63 186.41,232.76 187.08,232.88 C187.75,233.01 188.42,233.12 189.08,233.23 C189.75,233.34 190.42,233.44 191.09,233.54 C191.75,233.63 192.42,233.72 193.09,233.80 C193.75,233.88 194.42,233.95 195.09,234.01 C195.76,234.08 196.42,234.13 197.09,234.18 C197.76,234.23 198.43,234.27 199.09,234.29 C199.76,234.32 200.43,234.34 201.09,234.35 C201.76,234.36 202.43,234.37 203.10,234.36 C203.76,234.35 204.43,234.33 205.10,234.30 C205.77,234.27 206.77,234.20 207.10,234.18 L207.10,313.70 C206.77,313.49 205.77,312.88 205.10,312.43 C204.43,311.97 203.76,311.48 203.10,310.97 C202.43,310.46 201.76,309.92 201.09,309.36 C200.43,308.79 199.76,308.20 199.09,307.59 C198.43,306.98 197.76,306.35 197.09,305.70 C196.42,305.05 195.76,304.37 195.09,303.68 C194.42,302.99 193.75,302.28 193.09,301.55 C192.42,300.83 191.75,300.09 191.09,299.33 C190.42,298.58 189.75,297.81 189.08,297.03 C188.42,296.25 187.75,295.46 187.08,294.66 C186.41,293.86 185.75,293.05 185.08,292.24 C184.41,291.42 183.75,290.60 183.08,289.77 C182.41,288.95 181.74,288.11 181.08,287.28 C180.41,286.44 179.74,285.61 179.07,284.77 C178.41,283.93 177.74,283.09 177.07,282.26 C176.41,281.42 175.74,280.58 175.07,279.75 C174.40,278.92 173.74,278.09 173.07,277.26 C172.40,276.44 171.74,275.62 171.07,274.80 C170.40,273.99 169.73,273.17 169.07,272.37 C168.40,271.57 167.73,270.77 167.06,269.98 C166.40,269.19 165.73,268.41 165.06,267.63 C164.40,266.86 163.73,266.10 163.06,265.34 C162.39,264.59 161.73,263.85 161.06,263.12 C160.39,262.39 159.72,261.67 159.06,260.96 C158.39,260.26 157.72,259.56 157.06,258.88 C156.39,258.20 155.72,257.52 155.05,256.86 C154.39,256.20 153.72,255.55 153.05,254.91 C152.38,254.27 151.72,253.64 151.05,253.02 C150.38,252.40 149.72,251.79 149.05,251.18 C148.38,250.58 147.71,249.99 147.05,249.40 C146.38,248.82 145.71,248.24 145.04,247.67 C144.38,247.10 143.71,246.54 143.04,245.99 C142.38,245.43 141.71,244.89 141.04,244.35 C140.37,243.81 139.71,243.27 139.04,242.75 C138.37,242.22 137.70,241.70 137.04,241.18 C136.37,240.67 135.70,240.16 135.04,239.66 C134.37,239.16 133.70,238.66 133.03,238.17 C132.37,237.68 131.70,237.19 131.03,236.72 C130.36,236.24 129.70,235.77 129.03,235.30 C128.36,234.83 127.70,234.37 127.03,233.92 C126.36,233.46 125.69,233.01 125.03,232.57 C124.36,232.13 123.69,231.69 123.03,231.26 C122.36,230.83 121.69,230.40 121.02,229.98 C120.36,229.56 119.69,229.14 119.02,228.73 C118.35,228.32 117.69,227.92 117.02,227.52 C116.35,227.12 115.69,226.73 115.02,226.34 C114.35,225.95 113.68,225.57 113.02,225.19 C112.35,224.81 111.68,224.44 111.01,224.07 C110.35,223.71 109.68,223.34 109.01,222.99 C108.35,222.63 107.68,222.28 107.01,221.93 C106.34,221.58 105.68,221.24 105.01,220.90 C104.34,220.56 103.67,220.23 103.01,219.90 C102.34,219.57 101.67,219.25 101.01,218.93 C100.34,218.61 99.67,218.30 99.00,217.99 C98.34,217.68 97.67,217.37 97.00,217.07 C96.33,216.77 95.33,216.33 95.00,216.18 C85.02,220.95 45.08,239.95 35.10,244.70 Z" fill="#FCEAE8" stroke="none"/>
<path d="M35.10,215.90 C35.62,215.90 37.17,215.90 38.21,215.90 C39.25,215.90 40.29,215.90 41.32,215.90 C42.36,215.90 43.40,215.90 44.44,215.90 C45.47,215.90 46.51,215.90 47.55,215.90 C48.58,215.90 49.62,215.90 50.66,215.90 C51.70,215.90 52.73,215.90 53.77,215.90 C54.81,215.90 55.85,215.90 56.88,215.90 C57.92,215.90 58.96,215.90 59.99,215.90 C61.03,215.90 62.07,215.90 63.11,215.90 C64.14,215.90 65.18,215.90 66.22,215.90 C67.25,215.90 68.29,215.90 69.33,215.90 C70.37,215.90 71.40,215.90 72.44,215.90 C73.48,215.90 74.52,215.90 75.55,215.90 C76.59,215.90 77.63,215.90 78.66,215.90 C79.70,215.90 80.74,215.90 81.78,215.90 C82.81,215.90 83.85,215.90 84.89,215.90 C85.93,215.90 87.14,215.90 88.00,215.90 C88.86,215.90 89.35,215.89 90.02,215.91 C90.69,215.93 91.36,215.98 92.04,216.03 C92.71,216.07 93.38,216.13 94.06,216.19 C94.73,216.26 95.40,216.33 96.07,216.41 C96.75,216.48 97.42,216.57 98.09,216.66 C98.77,216.76 99.44,216.86 100.11,216.97 C100.78,217.08 101.46,217.20 102.13,217.32 C102.80,217.45 103.48,217.58 104.15,217.72 C104.82,217.86 105.49,218.01 106.17,218.16 C106.84,218.32 107.51,218.48 108.19,218.65 C108.86,218.82 109.53,218.99 110.21,219.18 C110.88,219.36 111.55,219.55 112.22,219.75 C112.90,219.94 113.57,220.15 114.24,220.36 C114.92,220.57 115.59,220.79 116.26,221.01 C116.93,221.24 117.61,221.47 118.28,221.71 C118.95,221.95 119.63,222.19 120.30,222.44 C120.97,222.69 121.64,222.95 122.32,223.22 C122.99,223.48 123.66,223.75 124.34,224.03 C125.01,224.31 125.68,224.59 126.35,224.88 C127.03,225.17 127.70,225.47 128.37,225.77 C129.05,226.07 129.72,226.38 130.39,226.69 C131.06,227.01 131.74,227.33 132.41,227.65 C133.08,227.98 133.76,228.31 134.43,228.65 C135.10,228.99 135.77,229.33 136.45,229.68 C137.12,230.03 137.79,230.39 138.47,230.75 C139.14,231.10 139.81,231.47 140.48,231.84 C141.16,232.21 141.83,232.59 142.50,232.97 C143.18,233.35 143.85,233.73 144.52,234.12 C145.19,234.51 145.87,234.90 146.54,235.30 C147.21,235.70 147.89,236.10 148.56,236.50 C149.23,236.91 149.91,237.32 150.58,237.73 C151.25,238.14 151.92,238.56 152.60,238.98 C153.27,239.40 153.94,239.82 154.62,240.25 C155.29,240.67 155.96,241.10 156.63,241.54 C157.31,241.97 157.98,242.40 158.65,242.84 C159.33,243.27 160.00,243.71 160.67,244.15 C161.34,244.59 162.02,245.04 162.69,245.48 C163.36,245.93 164.04,246.37 164.71,246.82 C165.38,247.27 166.05,247.72 166.73,248.17 C167.40,248.62 168.07,249.08 168.75,249.53 C169.42,249.98 170.09,250.44 170.76,250.89 C171.44,251.35 172.11,251.80 172.78,252.26 C173.46,252.71 174.13,253.17 174.80,253.62 C175.47,254.08 176.15,254.54 176.82,254.99 C177.49,255.45 178.17,255.91 178.84,256.36 C179.51,256.82 180.18,257.27 180.86,257.73 C181.53,258.18 182.20,258.63 182.88,259.09 C183.55,259.54 184.22,259.99 184.89,260.44 C185.57,260.89 186.24,261.34 186.91,261.79 C187.59,262.23 188.26,262.68 188.93,263.12 C189.61,263.56 190.28,264.01 190.95,264.45 C191.62,264.88 192.30,265.32 192.97,265.76 C193.64,266.19 194.32,266.62 194.99,267.05 C195.66,267.48 196.33,267.91 197.01,268.33 C197.68,268.75 198.35,269.17 199.03,269.59 C199.70,270.01 200.37,270.42 201.04,270.83 C201.72,271.24 202.39,271.65 203.06,272.05 C203.74,272.45 204.41,272.85 205.08,273.25 C205.75,273.64 206.76,274.22 207.10,274.41" fill="none" stroke="#E5564A" stroke-width="0.9" stroke-linejoin="round"/>
<line x1="27.5" y1="216.3" x2="215.5" y2="216.3" stroke="#6a6a6a" stroke-width="1.1" stroke-dasharray="2,1.64"/>
<line x1="26.6" y1="177.9" x2="26.6" y2="320.90000000000003" stroke="#585858" stroke-width="1.2"/>
<line x1="26.0" y1="320.3" x2="215.7" y2="320.3" stroke="#585858" stroke-width="1.2"/>
<line x1="24.400000000000002" y1="216.3" x2="26.6" y2="216.3" stroke="#444" stroke-width="0.8"/>
<text x="23.0" y="218.30" text-anchor="end" font-size="6.1" textLength="10.0" lengthAdjust="spacingAndGlyphs" fill="#505050" stroke="#505050" style="stroke-width:0.07px">0.00</text>
<line x1="24.400000000000002" y1="262.8" x2="26.6" y2="262.8" stroke="#444" stroke-width="0.8"/>
<text x="23.0" y="264.80" text-anchor="end" font-size="6.1" textLength="12.4" lengthAdjust="spacingAndGlyphs" fill="#505050" stroke="#505050" style="stroke-width:0.07px">−0.20</text>
<line x1="24.400000000000002" y1="309.6" x2="26.6" y2="309.6" stroke="#444" stroke-width="0.8"/>
<text x="23.0" y="311.60" text-anchor="end" font-size="6.1" textLength="12.4" lengthAdjust="spacingAndGlyphs" fill="#505050" stroke="#505050" style="stroke-width:0.07px">−0.40</text>
<line x1="51.9" y1="320.3" x2="51.9" y2="322.7" stroke="#444" stroke-width="0.8"/>
<text x="51.9" y="327.60" text-anchor="middle" font-size="6.2" fill="#505050" stroke="#505050" style="stroke-width:0.07px">−4</text>
<line x1="108.8" y1="320.3" x2="108.8" y2="322.7" stroke="#444" stroke-width="0.8"/>
<text x="108.8" y="327.60" text-anchor="middle" font-size="6.2" fill="#505050" stroke="#505050" style="stroke-width:0.07px">−2</text>
<line x1="165.1" y1="320.3" x2="165.1" y2="322.7" stroke="#444" stroke-width="0.8"/>
<text x="165.1" y="327.60" text-anchor="middle" font-size="6.2" fill="#505050" stroke="#505050" style="stroke-width:0.07px">0</text>
<text x="72.6" y="334.40" font-size="6.3" font-weight="bold" textLength="96.4" lengthAdjust="spacingAndGlyphs" xml:space="preserve" fill="#111" stroke="#111">Log2−transformed  glyphosate, μg/g Cr</text>
<text transform="translate(7.6,253.65) rotate(-90)" x="0" y="0" text-anchor="middle" font-size="6.6" font-weight="bold" textLength="127.5" lengthAdjust="spacingAndGlyphs" fill="#111" stroke="#111" style="stroke-width:0.2px">Estimated change of HOMA2-β (log2, 95% CI)</text>
<text x="70.5" y="202.8" font-size="6.5" font-weight="bold" fill="#111" stroke="#111" textLength="55.1" lengthAdjust="spacingAndGlyphs"><tspan font-style="italic">P</tspan> for overall = 0.010</text>
<text x="70.5" y="209.8" font-size="6.5" font-weight="normal" fill="#2a2a2a" stroke="#2a2a2a" textLength="59.5" lengthAdjust="spacingAndGlyphs"><tspan font-style="italic">P</tspan> for nonlinear = 0.161</text>
<path d="M267.70,219.00 C277.45,230.57 316.45,276.83 326.20,288.40 C326.53,288.27 327.53,287.89 328.19,287.65 C328.86,287.40 329.52,287.16 330.19,286.91 C330.85,286.67 331.51,286.43 332.18,286.19 C332.84,285.95 333.51,285.71 334.17,285.47 C334.84,285.24 335.50,285.00 336.16,284.76 C336.83,284.51 337.49,284.27 338.16,284.03 C338.82,283.79 339.49,283.54 340.15,283.30 C340.81,283.05 341.48,282.80 342.14,282.54 C342.81,282.29 343.47,282.03 344.14,281.77 C344.80,281.51 345.46,281.25 346.13,280.98 C346.79,280.71 347.46,280.43 348.12,280.15 C348.79,279.87 349.45,279.59 350.11,279.29 C350.78,279.00 351.44,278.70 352.11,278.40 C352.77,278.09 353.44,277.78 354.10,277.45 C354.76,277.13 355.43,276.80 356.09,276.46 C356.76,276.12 357.42,275.78 358.09,275.42 C358.75,275.06 359.41,274.70 360.08,274.32 C360.74,273.94 361.41,273.55 362.07,273.15 C362.74,272.75 363.40,272.35 364.06,271.92 C364.73,271.50 365.39,271.07 366.06,270.62 C366.72,270.17 367.39,269.71 368.05,269.24 C368.71,268.76 369.38,268.28 370.04,267.78 C370.71,267.27 371.37,266.76 372.04,266.23 C372.70,265.70 373.36,265.15 374.03,264.59 C374.69,264.02 375.36,263.45 376.02,262.85 C376.69,262.26 377.35,261.65 378.01,261.02 C378.68,260.39 379.34,259.74 380.01,259.07 C380.67,258.41 381.34,257.73 382.00,257.03 C382.66,256.33 383.33,255.62 383.99,254.89 C384.66,254.17 385.32,253.42 385.99,252.67 C386.65,251.92 387.31,251.15 387.98,250.37 C388.64,249.59 389.31,248.80 389.97,248.00 C390.64,247.20 391.30,246.39 391.96,245.57 C392.63,244.75 393.29,243.92 393.96,243.09 C394.62,242.25 395.29,241.41 395.95,240.56 C396.61,239.71 397.28,238.86 397.94,238.00 C398.61,237.14 399.27,236.28 399.94,235.41 C400.60,234.54 401.26,233.67 401.93,232.80 C402.59,231.93 403.26,231.05 403.92,230.18 C404.59,229.31 405.25,228.43 405.91,227.56 C406.58,226.68 407.24,225.81 407.91,224.94 C408.57,224.06 409.24,223.19 409.90,222.32 C410.56,221.44 411.23,220.57 411.89,219.69 C412.56,218.82 413.22,217.95 413.89,217.07 C414.55,216.20 415.21,215.32 415.88,214.44 C416.54,213.57 417.21,212.69 417.87,211.81 C418.54,210.93 419.20,210.05 419.86,209.17 C420.53,208.29 421.19,207.41 421.86,206.53 C422.52,205.64 423.19,204.76 423.85,203.87 C424.51,202.99 425.18,202.10 425.84,201.21 C426.51,200.32 427.17,199.42 427.84,198.53 C428.50,197.63 429.16,196.74 429.83,195.84 C430.49,194.94 431.16,194.03 431.82,193.13 C432.49,192.22 433.15,191.32 433.81,190.41 C434.48,189.50 435.14,188.58 435.81,187.67 C436.47,186.75 437.47,185.37 437.80,184.91 L437.80,312.20 C437.47,312.12 436.47,311.90 435.81,311.75 C435.14,311.60 434.48,311.44 433.81,311.29 C433.15,311.14 432.49,310.99 431.82,310.83 C431.16,310.68 430.49,310.53 429.83,310.37 C429.16,310.22 428.50,310.07 427.84,309.91 C427.17,309.76 426.51,309.61 425.84,309.46 C425.18,309.30 424.51,309.15 423.85,309.00 C423.19,308.85 422.52,308.70 421.86,308.55 C421.19,308.40 420.53,308.25 419.86,308.11 C419.20,307.96 418.54,307.81 417.87,307.67 C417.21,307.52 416.54,307.38 415.88,307.24 C415.21,307.10 414.55,306.96 413.89,306.82 C413.22,306.68 412.56,306.54 411.89,306.41 C411.23,306.27 410.56,306.14 409.90,306.01 C409.24,305.88 408.57,305.75 407.91,305.63 C407.24,305.50 406.58,305.38 405.91,305.26 C405.25,305.14 404.59,305.02 403.92,304.90 C403.26,304.79 402.59,304.67 401.93,304.56 C401.26,304.46 400.60,304.35 399.94,304.25 C399.27,304.14 398.61,304.04 397.94,303.95 C397.28,303.85 396.61,303.76 395.95,303.67 C395.29,303.58 394.62,303.49 393.96,303.41 C393.29,303.33 392.63,303.25 391.96,303.18 C391.30,303.11 390.64,303.04 389.97,302.97 C389.31,302.91 388.64,302.85 387.98,302.79 C387.31,302.74 386.65,302.69 385.99,302.64 C385.32,302.59 384.66,302.55 383.99,302.51 C383.33,302.48 382.66,302.44 382.00,302.42 C381.34,302.39 380.67,302.37 380.01,302.35 C379.34,302.34 378.68,302.33 378.01,302.32 C377.35,302.32 376.69,302.32 376.02,302.33 C375.36,302.33 374.69,302.35 374.03,302.36 C373.36,302.38 372.70,302.41 372.04,302.44 C371.37,302.47 370.71,302.51 370.04,302.54 C369.38,302.58 368.71,302.63 368.05,302.67 C367.39,302.71 366.72,302.76 366.06,302.80 C365.39,302.85 364.73,302.89 364.06,302.94 C363.40,302.98 362.74,303.02 362.07,303.05 C361.41,303.08 360.74,303.11 360.08,303.14 C359.41,303.16 358.75,303.17 358.09,303.18 C357.42,303.19 356.76,303.19 356.09,303.17 C355.43,303.16 354.76,303.14 354.10,303.10 C353.44,303.06 352.77,303.01 352.11,302.95 C351.44,302.88 350.78,302.80 350.11,302.71 C349.45,302.61 348.79,302.50 348.12,302.36 C347.46,302.23 346.79,302.08 346.13,301.91 C345.46,301.73 344.80,301.54 344.14,301.32 C343.47,301.11 342.81,300.87 342.14,300.60 C341.48,300.34 340.81,300.05 340.15,299.73 C339.49,299.41 338.82,299.07 338.16,298.70 C337.49,298.32 336.83,297.92 336.16,297.48 C335.50,297.05 334.84,296.59 334.17,296.09 C333.51,295.59 332.84,295.06 332.18,294.49 C331.51,293.92 330.85,293.32 330.19,292.68 C329.52,292.04 328.86,291.36 328.19,290.65 C327.53,289.93 326.53,288.75 326.20,288.37 C316.45,292.80 277.45,310.40 267.70,314.80 Z" fill="#FAE7DC" stroke="none"/>
<path d="M268.00,267.50 C268.52,267.70 270.10,268.29 271.14,268.69 C272.19,269.08 273.24,269.48 274.29,269.87 C275.33,270.27 276.38,270.66 277.43,271.06 C278.48,271.45 279.52,271.85 280.57,272.24 C281.62,272.64 282.67,273.03 283.71,273.43 C284.76,273.82 285.81,274.22 286.86,274.61 C287.90,275.01 288.95,275.40 290.00,275.80 C291.05,276.20 292.10,276.59 293.14,276.99 C294.19,277.38 295.24,277.78 296.29,278.17 C297.33,278.57 298.38,278.96 299.43,279.36 C300.48,279.75 301.52,280.15 302.57,280.54 C303.62,280.94 304.67,281.33 305.71,281.73 C306.76,282.12 307.81,282.52 308.86,282.91 C309.90,283.31 311.14,283.78 312.00,284.10 C312.86,284.42 313.33,284.60 314.00,284.85 C314.67,285.09 315.33,285.33 316.00,285.56 C316.67,285.79 317.33,286.02 318.00,286.25 C318.67,286.47 319.33,286.69 320.00,286.91 C320.67,287.13 321.33,287.34 322.00,287.54 C322.67,287.74 323.33,287.94 324.00,288.14 C324.67,288.33 325.33,288.51 326.00,288.69 C326.67,288.87 327.33,289.05 328.00,289.21 C328.67,289.38 329.33,289.53 330.00,289.68 C330.67,289.83 331.33,289.97 332.00,290.11 C332.67,290.24 333.33,290.36 334.00,290.48 C334.67,290.59 335.33,290.70 336.00,290.80 C336.67,290.89 337.33,290.98 338.00,291.06 C338.67,291.13 339.33,291.20 340.00,291.25 C340.67,291.31 341.33,291.35 342.00,291.39 C342.67,291.42 343.33,291.44 344.00,291.45 C344.67,291.46 345.33,291.46 346.00,291.44 C346.67,291.43 347.33,291.40 348.00,291.36 C348.67,291.32 349.33,291.27 350.00,291.20 C350.67,291.14 351.33,291.06 352.00,290.97 C352.67,290.88 353.33,290.78 354.00,290.66 C354.67,290.55 355.33,290.43 356.00,290.29 C356.67,290.15 357.33,290.00 358.00,289.84 C358.67,289.68 359.33,289.51 360.00,289.33 C360.67,289.15 361.33,288.95 362.00,288.75 C362.67,288.54 363.33,288.33 364.00,288.10 C364.67,287.87 365.33,287.64 366.00,287.39 C366.67,287.14 367.33,286.88 368.00,286.61 C368.67,286.35 369.33,286.07 370.00,285.78 C370.67,285.49 371.33,285.19 372.00,284.88 C372.67,284.57 373.33,284.25 374.00,283.92 C374.67,283.60 375.15,283.37 376.00,282.91 C376.85,282.45 378.06,281.75 379.09,281.17 C380.12,280.59 381.15,280.02 382.18,279.44 C383.21,278.86 384.24,278.29 385.27,277.71 C386.30,277.13 387.33,276.56 388.36,275.98 C389.39,275.40 390.42,274.83 391.45,274.25 C392.48,273.67 393.51,273.10 394.54,272.52 C395.57,271.94 396.60,271.37 397.63,270.79 C398.66,270.21 399.69,269.64 400.72,269.06 C401.75,268.48 402.78,267.91 403.81,267.33 C404.84,266.75 405.87,266.18 406.90,265.60 C407.93,265.02 408.96,264.45 409.99,263.87 C411.02,263.29 412.05,262.72 413.08,262.14 C414.11,261.56 415.14,260.99 416.17,260.41 C417.20,259.83 418.23,259.26 419.26,258.68 C420.29,258.10 421.32,257.53 422.35,256.95 C423.38,256.37 424.41,255.80 425.44,255.22 C426.47,254.64 427.50,254.07 428.53,253.49 C429.56,252.91 430.59,252.34 431.62,251.76 C432.65,251.18 433.68,250.61 434.71,250.03 C435.74,249.45 437.29,248.59 437.80,248.30" fill="none" stroke="#DF6340" stroke-width="0.9" stroke-linejoin="round"/>
<line x1="260.2" y1="288.6" x2="446" y2="288.6" stroke="#808080" stroke-width="1.3" stroke-dasharray="2,2.28"/>
<line x1="259.5" y1="178.2" x2="259.5" y2="323.1" stroke="#585858" stroke-width="1.2"/>
<line x1="258.9" y1="322.5" x2="444.4" y2="322.5" stroke="#585858" stroke-width="1.2"/>
<line x1="257.3" y1="197.0" x2="259.5" y2="197.0" stroke="#444" stroke-width="0.8"/>
<text x="255.7" y="199.00" text-anchor="end" font-size="6.1" textLength="10.0" lengthAdjust="spacingAndGlyphs" fill="#505050" stroke="#505050" style="stroke-width:0.07px">0.30</text>
<line x1="257.3" y1="226.7" x2="259.5" y2="226.7" stroke="#444" stroke-width="0.8"/>
<text x="255.7" y="228.70" text-anchor="end" font-size="6.1" textLength="10.0" lengthAdjust="spacingAndGlyphs" fill="#505050" stroke="#505050" style="stroke-width:0.07px">0.20</text>
<line x1="257.3" y1="258.0" x2="259.5" y2="258.0" stroke="#444" stroke-width="0.8"/>
<text x="255.7" y="260.00" text-anchor="end" font-size="6.1" textLength="10.0" lengthAdjust="spacingAndGlyphs" fill="#505050" stroke="#505050" style="stroke-width:0.07px">0.10</text>
<line x1="257.3" y1="288.4" x2="259.5" y2="288.4" stroke="#444" stroke-width="0.8"/>
<text x="255.7" y="290.40" text-anchor="end" font-size="6.1" textLength="10.0" lengthAdjust="spacingAndGlyphs" fill="#505050" stroke="#505050" style="stroke-width:0.07px">0.00</text>
<line x1="257.3" y1="318.9" x2="259.5" y2="318.9" stroke="#444" stroke-width="0.8"/>
<text x="255.7" y="320.90" text-anchor="end" font-size="6.1" textLength="12.4" lengthAdjust="spacingAndGlyphs" fill="#505050" stroke="#505050" style="stroke-width:0.07px">−0.10</text>
<line x1="285.7" y1="322.5" x2="285.7" y2="324.9" stroke="#444" stroke-width="0.8"/>
<text x="285.7" y="329.30" text-anchor="middle" font-size="6.2" fill="#505050" stroke="#505050" style="stroke-width:0.07px">−4</text>
<line x1="340.7" y1="322.5" x2="340.7" y2="324.9" stroke="#444" stroke-width="0.8"/>
<text x="340.7" y="329.30" text-anchor="middle" font-size="6.2" fill="#505050" stroke="#505050" style="stroke-width:0.07px">−2</text>
<line x1="396.7" y1="322.5" x2="396.7" y2="324.9" stroke="#444" stroke-width="0.8"/>
<text x="396.7" y="329.30" text-anchor="middle" font-size="6.2" fill="#505050" stroke="#505050" style="stroke-width:0.07px">0</text>
<text x="307.9" y="336.00" font-size="6.3" font-weight="bold" textLength="95.7" lengthAdjust="spacingAndGlyphs" xml:space="preserve" fill="#111" stroke="#111">Log2−transformed  glyphosate, μg/g Cr</text>
<text transform="translate(239.4,254.2) rotate(-90)" x="0" y="0" text-anchor="middle" font-size="6.6" font-weight="bold" textLength="130.2" lengthAdjust="spacingAndGlyphs" fill="#111" stroke="#111" style="stroke-width:0.2px">Estimated change of HOMA2-IS (log2, 95% CI)</text>
<text x="312.6" y="202.8" font-size="6.5" font-weight="normal" fill="#111" stroke="#111" textLength="53.4" lengthAdjust="spacingAndGlyphs"><tspan font-style="italic">P</tspan> for overall = 0.405</text>
<text x="311.7" y="209.8" font-size="6.5" font-weight="normal" fill="#2a2a2a" stroke="#2a2a2a" textLength="59.8" lengthAdjust="spacingAndGlyphs"><tspan font-style="italic">P</tspan> for nonlinear = 0.208</text>
<path d="M503.00,219.60 C512.93,222.90 552.67,236.10 562.60,239.40 C562.93,239.15 563.94,238.36 564.60,237.87 C565.27,237.39 565.94,236.93 566.61,236.49 C567.28,236.05 567.94,235.64 568.61,235.24 C569.28,234.85 569.95,234.48 570.61,234.13 C571.28,233.78 571.95,233.45 572.62,233.14 C573.29,232.83 573.95,232.55 574.62,232.27 C575.29,232.00 575.96,231.75 576.62,231.52 C577.29,231.28 577.96,231.06 578.63,230.86 C579.30,230.66 579.96,230.47 580.63,230.30 C581.30,230.13 581.97,229.97 582.64,229.83 C583.30,229.69 583.97,229.56 584.64,229.44 C585.31,229.33 585.97,229.22 586.64,229.13 C587.31,229.04 587.98,228.96 588.65,228.88 C589.31,228.81 589.98,228.75 590.65,228.70 C591.32,228.65 591.99,228.60 592.65,228.57 C593.32,228.53 593.99,228.50 594.66,228.48 C595.33,228.46 595.99,228.45 596.66,228.44 C597.33,228.43 598.00,228.42 598.66,228.42 C599.33,228.42 600.00,228.43 600.67,228.43 C601.34,228.44 602.00,228.45 602.67,228.46 C603.34,228.47 604.01,228.49 604.67,228.50 C605.34,228.51 606.01,228.53 606.68,228.54 C607.35,228.56 608.01,228.57 608.68,228.58 C609.35,228.59 610.02,228.60 610.69,228.61 C611.35,228.62 612.02,228.62 612.69,228.62 C613.36,228.62 614.03,228.62 614.69,228.61 C615.36,228.61 616.03,228.60 616.70,228.59 C617.36,228.58 618.03,228.57 618.70,228.55 C619.37,228.53 620.04,228.51 620.70,228.49 C621.37,228.47 622.04,228.45 622.71,228.42 C623.38,228.39 624.04,228.36 624.71,228.33 C625.38,228.30 626.05,228.26 626.71,228.22 C627.38,228.19 628.05,228.15 628.72,228.10 C629.39,228.06 630.05,228.02 630.72,227.97 C631.39,227.92 632.06,227.87 632.73,227.82 C633.39,227.77 634.06,227.71 634.73,227.66 C635.40,227.60 636.06,227.54 636.73,227.48 C637.40,227.42 638.07,227.35 638.74,227.29 C639.40,227.22 640.07,227.15 640.74,227.08 C641.41,227.01 642.08,226.94 642.74,226.87 C643.41,226.79 644.08,226.72 644.75,226.64 C645.41,226.56 646.08,226.48 646.75,226.40 C647.42,226.32 648.09,226.23 648.75,226.15 C649.42,226.06 650.09,225.97 650.76,225.88 C651.42,225.79 652.09,225.70 652.76,225.61 C653.43,225.52 654.10,225.42 654.76,225.33 C655.43,225.23 656.10,225.13 656.77,225.03 C657.44,224.93 658.10,224.83 658.77,224.73 C659.44,224.62 660.11,224.52 660.77,224.41 C661.44,224.31 662.11,224.20 662.78,224.09 C663.45,223.98 664.11,223.87 664.78,223.76 C665.45,223.65 666.12,223.54 666.79,223.42 C667.45,223.31 668.12,223.19 668.79,223.07 C669.46,222.96 670.12,222.84 670.79,222.72 C671.46,222.60 672.13,222.48 672.80,222.36 C673.46,222.24 674.47,222.05 674.80,221.99 L674.80,317.20 C674.47,316.89 673.46,315.95 672.80,315.32 C672.13,314.69 671.46,314.05 670.79,313.42 C670.12,312.78 669.46,312.14 668.79,311.50 C668.12,310.86 667.45,310.22 666.79,309.58 C666.12,308.93 665.45,308.28 664.78,307.64 C664.11,306.99 663.45,306.34 662.78,305.69 C662.11,305.04 661.44,304.39 660.77,303.73 C660.11,303.08 659.44,302.43 658.77,301.78 C658.10,301.12 657.44,300.47 656.77,299.82 C656.10,299.16 655.43,298.51 654.76,297.85 C654.10,297.20 653.43,296.55 652.76,295.90 C652.09,295.24 651.42,294.59 650.76,293.94 C650.09,293.29 649.42,292.64 648.75,292.00 C648.09,291.35 647.42,290.70 646.75,290.06 C646.08,289.41 645.41,288.77 644.75,288.13 C644.08,287.49 643.41,286.85 642.74,286.22 C642.08,285.58 641.41,284.95 640.74,284.32 C640.07,283.69 639.40,283.06 638.74,282.44 C638.07,281.82 637.40,281.19 636.73,280.58 C636.06,279.96 635.40,279.35 634.73,278.74 C634.06,278.13 633.39,277.53 632.73,276.93 C632.06,276.33 631.39,275.73 630.72,275.14 C630.05,274.55 629.39,273.96 628.72,273.38 C628.05,272.80 627.38,272.22 626.71,271.65 C626.05,271.08 625.38,270.52 624.71,269.96 C624.04,269.40 623.38,268.85 622.71,268.30 C622.04,267.76 621.37,267.21 620.70,266.68 C620.04,266.15 619.37,265.62 618.70,265.10 C618.03,264.58 617.36,264.07 616.70,263.56 C616.03,263.06 615.36,262.56 614.69,262.07 C614.03,261.58 613.36,261.09 612.69,260.62 C612.02,260.14 611.35,259.68 610.69,259.22 C610.02,258.76 609.35,258.31 608.68,257.87 C608.01,257.43 607.35,257.00 606.68,256.58 C606.01,256.15 605.34,255.74 604.67,255.34 C604.01,254.93 603.34,254.54 602.67,254.15 C602.00,253.76 601.34,253.39 600.67,253.02 C600.00,252.65 599.33,252.29 598.66,251.94 C598.00,251.59 597.33,251.25 596.66,250.91 C595.99,250.58 595.33,250.25 594.66,249.93 C593.99,249.61 593.32,249.30 592.65,249.00 C591.99,248.70 591.32,248.40 590.65,248.11 C589.98,247.82 589.31,247.54 588.65,247.27 C587.98,246.99 587.31,246.72 586.64,246.46 C585.97,246.20 585.31,245.95 584.64,245.70 C583.97,245.45 583.30,245.21 582.64,244.97 C581.97,244.74 581.30,244.51 580.63,244.28 C579.96,244.06 579.30,243.84 578.63,243.63 C577.96,243.42 577.29,243.21 576.62,243.01 C575.96,242.81 575.29,242.61 574.62,242.42 C573.95,242.22 573.29,242.04 572.62,241.86 C571.95,241.67 571.28,241.49 570.61,241.32 C569.95,241.15 569.28,240.98 568.61,240.81 C567.94,240.65 567.28,240.49 566.61,240.33 C565.94,240.17 565.27,240.02 564.60,239.87 C563.94,239.72 562.93,239.50 562.60,239.43 C552.67,248.12 512.93,282.98 503.00,291.70 Z" fill="#FCEAE8" stroke="none"/>
<path d="M503.00,255.70 C503.52,255.56 505.09,255.13 506.14,254.84 C507.18,254.56 508.23,254.27 509.27,253.98 C510.32,253.70 511.36,253.41 512.41,253.13 C513.46,252.84 514.50,252.55 515.55,252.27 C516.59,251.98 517.64,251.70 518.68,251.41 C519.73,251.12 520.78,250.84 521.82,250.55 C522.87,250.27 523.91,249.98 524.96,249.69 C526.00,249.41 527.05,249.12 528.09,248.84 C529.14,248.55 530.19,248.26 531.23,247.98 C532.28,247.69 533.32,247.41 534.37,247.12 C535.41,246.84 536.46,246.55 537.51,246.26 C538.55,245.98 539.60,245.69 540.64,245.41 C541.69,245.12 542.73,244.83 543.78,244.55 C544.82,244.26 545.87,243.98 546.92,243.69 C547.96,243.40 549.01,243.12 550.05,242.83 C551.10,242.55 552.14,242.26 553.19,241.97 C554.24,241.69 555.28,241.40 556.33,241.12 C557.37,240.83 558.42,240.54 559.46,240.26 C560.51,239.97 561.73,239.62 562.60,239.40 C563.47,239.18 563.98,239.08 564.67,238.94 C565.36,238.80 566.05,238.68 566.74,238.56 C567.43,238.45 568.12,238.34 568.80,238.25 C569.49,238.16 570.18,238.07 570.87,238.00 C571.56,237.93 572.25,237.87 572.94,237.82 C573.63,237.76 574.32,237.72 575.01,237.69 C575.70,237.66 576.39,237.64 577.08,237.63 C577.77,237.62 578.46,237.62 579.15,237.63 C579.83,237.64 580.52,237.66 581.21,237.69 C581.90,237.72 582.59,237.76 583.28,237.81 C583.97,237.86 584.66,237.91 585.35,237.98 C586.04,238.05 586.73,238.13 587.42,238.21 C588.11,238.30 588.80,238.39 589.49,238.50 C590.18,238.60 590.87,238.72 591.55,238.84 C592.24,238.96 592.93,239.09 593.62,239.23 C594.31,239.37 595.00,239.52 595.69,239.68 C596.38,239.83 597.07,240.00 597.76,240.17 C598.45,240.35 599.14,240.53 599.83,240.72 C600.52,240.91 601.21,241.11 601.90,241.31 C602.58,241.52 603.27,241.73 603.96,241.96 C604.65,242.18 605.34,242.41 606.03,242.64 C606.72,242.88 607.25,243.06 608.10,243.38 C608.95,243.70 610.12,244.18 611.13,244.58 C612.14,244.98 613.15,245.37 614.16,245.76 C615.17,246.16 616.18,246.55 617.20,246.95 C618.21,247.34 619.22,247.73 620.23,248.13 C621.24,248.52 622.25,248.92 623.26,249.31 C624.27,249.70 625.28,250.10 626.29,250.49 C627.30,250.88 628.31,251.28 629.32,251.67 C630.33,252.07 631.34,252.46 632.35,252.85 C633.37,253.25 634.38,253.64 635.39,254.04 C636.40,254.43 637.41,254.82 638.42,255.22 C639.43,255.61 640.44,256.01 641.45,256.40 C642.46,256.79 643.47,257.19 644.48,257.58 C645.49,257.98 646.50,258.37 647.51,258.76 C648.52,259.16 649.53,259.55 650.55,259.95 C651.56,260.34 652.57,260.73 653.58,261.13 C654.59,261.52 655.60,261.92 656.61,262.31 C657.62,262.70 658.63,263.10 659.64,263.49 C660.65,263.88 661.66,264.28 662.67,264.67 C663.68,265.07 664.69,265.46 665.70,265.85 C666.72,266.25 667.73,266.64 668.74,267.04 C669.75,267.43 670.76,267.82 671.77,268.22 C672.78,268.61 674.29,269.20 674.80,269.40" fill="none" stroke="#E5564A" stroke-width="0.9" stroke-linejoin="round"/>
<line x1="495.5" y1="239.5" x2="683" y2="239.5" stroke="#6a6a6a" stroke-width="1.0" stroke-dasharray="1.9,1.75"/>
<line x1="494.6" y1="181.7" x2="494.6" y2="324.90000000000003" stroke="#585858" stroke-width="1.2"/>
<line x1="494.0" y1="324.3" x2="682.6" y2="324.3" stroke="#585858" stroke-width="1.2"/>
<line x1="492.40000000000003" y1="193.4" x2="494.6" y2="193.4" stroke="#444" stroke-width="0.8"/>
<text x="490.7" y="195.40" text-anchor="end" font-size="6.1" textLength="10.0" lengthAdjust="spacingAndGlyphs" fill="#505050" stroke="#505050" style="stroke-width:0.07px">0.20</text>
<line x1="492.40000000000003" y1="239.4" x2="494.6" y2="239.4" stroke="#444" stroke-width="0.8"/>
<text x="490.7" y="241.40" text-anchor="end" font-size="6.1" textLength="10.0" lengthAdjust="spacingAndGlyphs" fill="#505050" stroke="#505050" style="stroke-width:0.07px">0.00</text>
<line x1="492.40000000000003" y1="284.9" x2="494.6" y2="284.9" stroke="#444" stroke-width="0.8"/>
<text x="490.7" y="286.90" text-anchor="end" font-size="6.1" textLength="12.4" lengthAdjust="spacingAndGlyphs" fill="#505050" stroke="#505050" style="stroke-width:0.07px">−0.20</text>
<line x1="520.4" y1="324.3" x2="520.4" y2="326.7" stroke="#444" stroke-width="0.8"/>
<text x="520.4" y="331.50" text-anchor="middle" font-size="6.2" fill="#505050" stroke="#505050" style="stroke-width:0.07px">−4</text>
<line x1="576.7" y1="324.3" x2="576.7" y2="326.7" stroke="#444" stroke-width="0.8"/>
<text x="576.7" y="331.50" text-anchor="middle" font-size="6.2" fill="#505050" stroke="#505050" style="stroke-width:0.07px">−2</text>
<line x1="632.7" y1="324.3" x2="632.7" y2="326.7" stroke="#444" stroke-width="0.8"/>
<text x="632.7" y="331.50" text-anchor="middle" font-size="6.2" fill="#505050" stroke="#505050" style="stroke-width:0.07px">0</text>
<text x="540.6" y="338.80" font-size="6.3" font-weight="bold" textLength="96.8" lengthAdjust="spacingAndGlyphs" xml:space="preserve" fill="#111" stroke="#111">Log2−transformed  glyphosate, μg/g Cr</text>
<text transform="translate(476.6,254.75) rotate(-90)" x="0" y="0" text-anchor="middle" font-size="6.6" font-weight="bold" textLength="131.3" lengthAdjust="spacingAndGlyphs" fill="#111" stroke="#111" style="stroke-width:0.2px">Estimated change of HOMA2-IR (log2, 95% CI)</text>
<text x="551.1" y="201.9" font-size="6.5" font-weight="normal" fill="#111" stroke="#111" textLength="53.7" lengthAdjust="spacingAndGlyphs"><tspan font-style="italic">P</tspan> for overall = 0.405</text>
<text x="550.5" y="209.2" font-size="6.5" font-weight="normal" fill="#2a2a2a" stroke="#2a2a2a" textLength="60.2" lengthAdjust="spacingAndGlyphs"><tspan font-style="italic">P</tspan> for nonlinear = 0.208</text>
</svg></body></html>
